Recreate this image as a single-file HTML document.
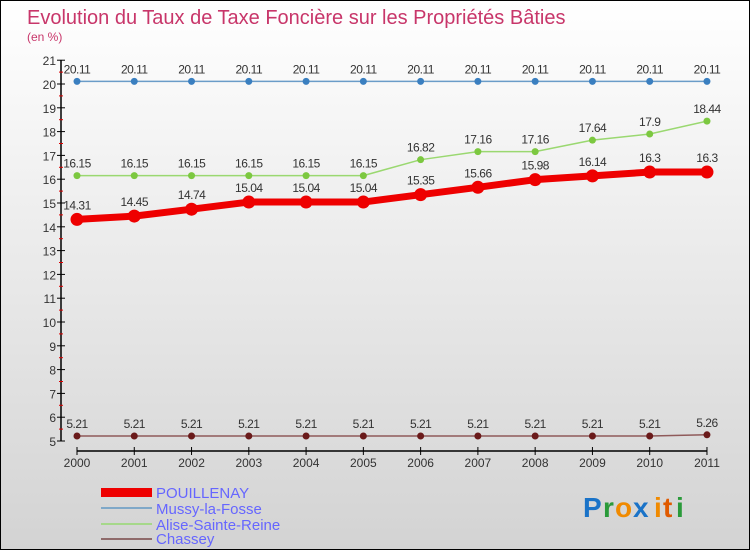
<!DOCTYPE html>
<html><head><meta charset="utf-8"><style>
body{margin:0}
#wrap{width:748px;height:548px;border:1px solid #000;background:linear-gradient(#ffffff,#d3d3d3);position:relative;font-family:"Liberation Sans",sans-serif;overflow:hidden}
</style></head><body>
<div id="wrap">
<svg id="svg" width="748" height="548" xmlns="http://www.w3.org/2000/svg">
<text x="26" y="23" font-size="20" fill="#c8366a">Evolution du Taux de Taxe Foncière sur les Propriétés Bâties</text>
<text x="26" y="40" font-size="12" fill="#c8366a">(en %)</text>
<g id="axes"></g><g id="series"></g>
<g>
<rect x="100" y="487" width="51" height="9" fill="#e00"/>
<text x="155" y="497" font-size="15" fill="#6666ff">POUILLENAY</text>
<rect x="100" y="506" width="51" height="2" fill="#7fa8c8"/>
<text x="155" y="513" font-size="15" fill="#6666ff">Mussy-la-Fosse</text>
<rect x="100" y="522" width="51" height="2" fill="#a6d88a"/>
<text x="155" y="529" font-size="15" fill="#6666ff">Alise-Sainte-Reine</text>
<rect x="100" y="537" width="51" height="2" fill="#8f6b6b"/>
<text x="155" y="543" font-size="15" fill="#6666ff">Chassey</text>
</g>
<g font-size="28" font-weight="bold">
<text x="582" y="516" fill="#1a73c8">P</text><text x="602" y="516" fill="#2a9a3a">r</text><text x="614" y="516" fill="#f08a00">o</text><text x="632" y="516" fill="#1a73c8">x</text><text x="653" y="516" fill="#f08a00">i</text><text x="662" y="516" fill="#e05a00">t</text><text x="675" y="516" fill="#2a9a3a">i</text>
</g>
</svg>
</div>
<script>
const years=["2000","2001","2002","2003","2004","2005","2006","2007","2008","2009","2010","2011"];
const pouillenay=[14.31,14.45,14.74,15.04,15.04,15.04,15.35,15.66,15.98,16.14,16.3,16.3];
const mussy=[20.11,20.11,20.11,20.11,20.11,20.11,20.11,20.11,20.11,20.11,20.11,20.11];
const alise=[16.15,16.15,16.15,16.15,16.15,16.15,16.82,17.16,17.16,17.64,17.9,18.44];
const chassey=[5.21,5.21,5.21,5.21,5.21,5.21,5.21,5.21,5.21,5.21,5.21,5.26];
const yTicks=[5,6,7,8,9,10,11,12,13,14,15,16,17,18,19,20,21];
const NS="http://www.w3.org/2000/svg";
const X=i=>76+i*57.27;
const Y=v=>440-(v-5)*23.8;
function mk(tag,attrs,parent){const e=document.createElementNS(NS,tag);for(const k in attrs)e.setAttribute(k,attrs[k]);parent.appendChild(e);return e;}
const axes=document.getElementById('axes'),ser=document.getElementById('series');
let l=mk('line',{x1:60,y1:Y(21),x2:60,y2:Y(5),stroke:'#000','stroke-width':1.5},axes);


yTicks.forEach(v=>{
 let t=mk('line',{x1:56,x2:64,y1:Y(v),y2:Y(v),stroke:'#000'},axes);
 
 
 if(v<21){let m=mk('line',{x1:58,x2:62,y1:Y(v+0.5),y2:Y(v+0.5),stroke:'#d00'},axes);
 
 }
 let tx=mk('text',{x:55,y:Y(v)+5,'font-size':12,fill:'#333','text-anchor':'end'},axes);tx.textContent=v;
 
 
});
let xa=mk('line',{x1:X(0),x2:X(11),y1:450,y2:450,stroke:'#000','stroke-width':1.5},axes);


years.forEach((y,i)=>{
 let t=mk('line',{x1:X(i),x2:X(i),y1:446,y2:454,stroke:'#000'},axes);
 
 
 let tx=mk('text',{x:X(i),y:466,'font-size':12,fill:'#333','text-anchor':'middle'},axes);tx.textContent=y;
 
 
});
function draw(arr,name,color,w,r,dot){
 const g=mk('g',{},ser);
 
 
 let p=mk('polyline',{points:arr.map((v,i)=>X(i)+','+Y(v)).join(' '),fill:'none',stroke:color,'stroke-width':w,'stroke-linejoin':'round'},g);
 
 
 arr.forEach((v,i)=>{
  let c=mk('circle',{cx:X(i),cy:Y(v),r:r,fill:dot},g);
  
  
  let t=mk('text',{x:X(i),y:Y(v)-(w>3?10:8),'font-size':12,fill:'#333','text-anchor':'middle','letter-spacing':'-0.5'},g);t.textContent=String(v);
  
  
 });
}
draw(mussy,'mussy','#6a9cc8',1.5,3.5,'#3a7fc0');
draw(alise,'alise','#9ad870',1.5,3.5,'#7cc840');
draw(chassey,'chassey','#8f5a5a',1.5,3.5,'#6a1a1a');
draw(pouillenay,'pouillenay','#ee0000',7,6.5,'#ee0000');
</script>
</body></html>
